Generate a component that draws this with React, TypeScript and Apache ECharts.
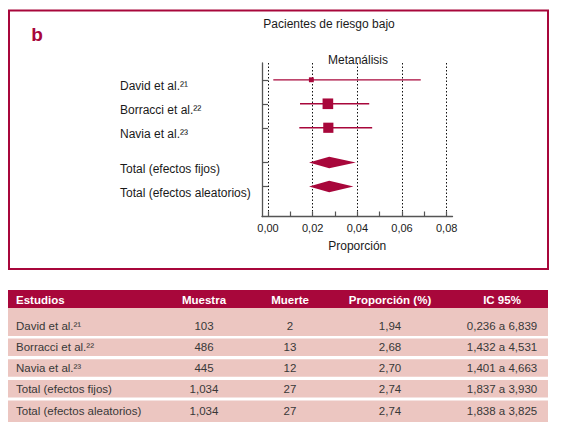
import React, { useEffect, useRef } from "react";
import * as echarts from "echarts";

// study rows
const studyNames = ["David et al.²¹", "Borracci et al.²²", "Navia et al.²³"];
const pooledNames = ["Total (efectos fijos)", "Total (efectos aleatorios)"];
const sampleSize = [103, 486, 445, 1034, 1034];
const deaths = [2, 13, 12, 27, 27];
const proportionPct = [1.94, 2.68, 2.7, 2.74, 2.74];
const ciLowPct = [0.236, 1.432, 1.401, 1.837, 1.838];
const ciHighPct = [6.839, 4.531, 4.663, 3.93, 3.825];
// vertical slot of each row in the forest plot (gap before the totals)
const rowPos = [0, 1, 2, 3.45, 4.45];

const xTicks = [0, 0.01, 0.02, 0.03, 0.04, 0.05, 0.06, 0.07, 0.08];
const xLabels = [0, 0.02, 0.04, 0.06, 0.08];
const tableHeader = ["Estudios", "Muestra", "Muerte", "Proporción (%)", "IC 95%"];

const CRIMSON = "#a8073b";
const PINK = "#ecc6c1";
const FONT = "Liberation Sans";

const comma = (v: number, d: number) => v.toFixed(d).replace(".", ",");

const App = () => {
  const chartContainer = useRef<HTMLDivElement>(null);

  useEffect(() => {
    if (!chartContainer.current) return;
    const chart = echarts.init(chartContainer.current, null, { renderer: "svg" });

    const allNames = [...studyNames, ...pooledNames];
    const studyTotal = sampleSize.slice(0, studyNames.length).reduce((a, b) => a + b, 0);
    const studyData = studyNames.map((_, i) => [
      proportionPct[i] / 100,
      ciLowPct[i] / 100,
      ciHighPct[i] / 100,
      rowPos[i],
      (sampleSize[i] / studyTotal) * 100,
    ]);
    const pooledData = pooledNames.map((_, j) => {
      const i = j + studyNames.length;
      return [proportionPct[i] / 100, ciLowPct[i] / 100, ciHighPct[i] / 100, rowPos[i]];
    });

    // table built from the same arrays
    const colX = [16, 204, 290, 390, 502];
    const colAlign = ["left", "center", "center", "center", "center"];
    const tableEls: any[] = [
      { type: "rect", shape: { x: 8, y: 290, width: 540, height: 18 }, style: { fill: CRIMSON } },
    ];
    tableHeader.forEach((h, c) => {
      tableEls.push({
        type: "text",
        x: colX[c],
        y: 299.5,
        style: {
          text: h, fill: "#fff", fontSize: 11.5, fontWeight: "bold", fontFamily: FONT,
          align: colAlign[c], verticalAlign: "middle",
        },
      });
    });
    allNames.forEach((name, i) => {
      const top = i === 0 ? 308 : 338.5 + (i - 1) * 20.7;
      const bottom = i === 0 ? 336 : i === allNames.length - 1 ? 422 : top + 17.5;
      const ty = i === 0 ? 326 : (top + bottom) / 2;
      tableEls.push({
        type: "rect",
        shape: { x: 8, y: top, width: 540, height: bottom - top },
        style: { fill: PINK },
      });
      const cells = [
        name,
        sampleSize[i].toLocaleString("en-US"),
        String(deaths[i]),
        comma(proportionPct[i], 2),
        comma(ciLowPct[i], 3) + " a " + comma(ciHighPct[i], 3),
      ];
      cells.forEach((t, c) => {
        tableEls.push({
          type: "text",
          x: colX[c],
          y: ty,
          style: {
            text: t, fill: "#383838", fontSize: 11.5, fontFamily: FONT,
            align: colAlign[c], verticalAlign: "middle",
          },
        });
      });
    });

    const option: echarts.EChartsOption = {
      animation: false,
      textStyle: { fontFamily: FONT },
      grid: { left: 262, right: 108.5, top: 63, bottom: 212.5 },
      xAxis: [
        {
          type: "value",
          min: -0.0027,
          max: 0.0826,
          name: "Proporción",
          nameLocation: "middle",
          nameGap: 23.5,
          nameTextStyle: { fontSize: 12, color: "#1a1a1a", fontFamily: FONT },
          axisLine: { onZero: false, lineStyle: { color: "#555", width: 1.3 } },
          axisTick: { customValues: xTicks, inside: true, length: 5, lineStyle: { color: "#555", width: 1.2 } },
          axisLabel: {
            customValues: xLabels,
            formatter: (v: number) => comma(v, 2),
            fontSize: 11,
            color: "#1a1a1a",
            margin: 6,
            fontFamily: FONT,
          },
          splitLine: { show: false },
        },
        {
          type: "value",
          min: -0.0027,
          max: 0.0826,
          position: "bottom",
          axisLine: { show: false },
          axisLabel: { show: false },
          axisTick: { show: false, customValues: xLabels },
          splitLine: { show: true, lineStyle: { color: "#111", width: 1, type: [1.5, 2] } },
        },
      ],
      yAxis: {
        type: "value",
        inverse: true,
        min: -0.7,
        max: 5.7,
        axisLine: { show: true, onZero: false, lineStyle: { color: "#555", width: 1.3 } },
        axisTick: { show: true, customValues: rowPos, inside: true, length: 6, lineStyle: { color: "#555", width: 1.2 } },
        axisLabel: {
          customValues: rowPos,
          formatter: (v: number) => allNames[rowPos.indexOf(v)] ?? "",
          align: "left",
          verticalAlign: "top",
          margin: 142,
          fontSize: 12,
          color: "#1a1a1a",
          fontFamily: FONT,
        },
        splitLine: { show: false },
      },
      series: [
        {
          type: "custom",
          name: "Estudios",
          xAxisIndex: 0,
          encode: { x: [0, 1, 2], y: 3 },
          data: studyData,
          renderItem: (_params: any, api: any) => {
            const y = api.value(3);
            const lo = api.coord([api.value(1), y]);
            const hi = api.coord([api.value(2), y]);
            const c = api.coord([api.value(0), y]);
            const s = 1.55 * Math.sqrt(api.value(4));
            return {
              type: "group",
              children: [
                {
                  type: "line",
                  shape: { x1: lo[0], y1: lo[1], x2: hi[0], y2: hi[1] },
                  style: { stroke: CRIMSON, lineWidth: 1.3 },
                },
                {
                  type: "rect",
                  shape: { x: c[0] - s / 2, y: c[1] - s / 2, width: s, height: s },
                  style: { fill: CRIMSON },
                },
              ],
            };
          },
        },
        {
          type: "custom",
          name: "Totales",
          xAxisIndex: 0,
          encode: { x: [0, 1, 2], y: 3 },
          data: pooledData,
          renderItem: (_params: any, api: any) => {
            const y = api.value(3);
            const lo = api.coord([api.value(1), y]);
            const hi = api.coord([api.value(2), y]);
            const c = api.coord([api.value(0), y]);
            const h = 5.7;
            return {
              type: "polygon",
              shape: { points: [[lo[0], lo[1]], [c[0], c[1] - h], [hi[0], hi[1]], [c[0], c[1] + h]] },
              style: { fill: CRIMSON },
            };
          },
        },
      ],
      graphic: [
        {
          type: "rect",
          shape: { x: 9, y: 10.5, width: 539, height: 258.5 },
          style: { fill: "none", stroke: CRIMSON, lineWidth: 2 },
        },
        {
          type: "text",
          x: 37,
          y: 34,
          style: {
            text: "b", fill: CRIMSON, fontSize: 19, fontWeight: "bold", fontFamily: FONT,
            align: "center", verticalAlign: "middle",
          },
        },
        {
          type: "text",
          x: 329,
          y: 24,
          style: {
            text: "Pacientes de riesgo bajo", fill: "#1a1a1a", fontSize: 12, fontFamily: FONT,
            align: "center", verticalAlign: "middle",
          },
        },
        {
          type: "text",
          x: 358,
          y: 60,
          style: {
            text: "Metanálisis", fill: "#1a1a1a", fontSize: 12, fontFamily: FONT,
            align: "center", verticalAlign: "middle",
          },
        },
        ...tableEls,
      ],
    };

    chart.setOption(option);
    return () => {
      chart.dispose();
    };
  }, []);

  return (
    <div
      ref={chartContainer}
      style={{ position: "fixed", left: 0, top: 0, width: 561, height: 429, background: "#fff" }}
    />
  );
};

export default App;
